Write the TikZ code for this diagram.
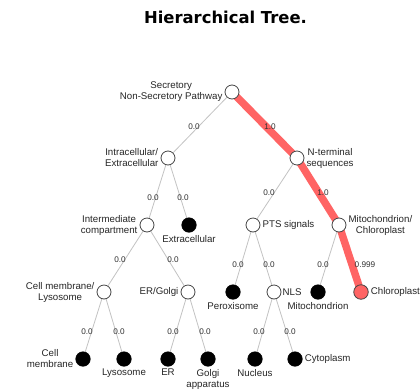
\documentclass[tikz,border=0pt]{standalone}
\usepackage{fontspec}
\setmainfont{Liberation Sans}
\newfontfamily\titlefont{DejaVu Sans}
\usetikzlibrary{backgrounds}
\definecolor{hot}{RGB}{255,100,100}
\definecolor{edgegray}{RGB}{195,195,195}
\definecolor{ringgray}{RGB}{70,70,70}
\tikzset{
  inner/.style={circle, draw=ringgray, fill=white, line width=0.8pt, minimum size=14pt, inner sep=0pt},
  leaf/.style={circle, draw=black, fill=black, line width=0.6pt, minimum size=14.5pt, inner sep=0pt},
  hotleaf/.style={circle, draw=ringgray, fill=hot, line width=0.8pt, minimum size=14.5pt, inner sep=0pt},
  lbl/.style={font=\fontsize{9.7}{11}\selectfont, align=center, inner sep=1pt, text=black!85},
  elbl/.style={font=\fontsize{8.2}{9}\selectfont, inner sep=0pt, text=black!80},
  edge/.style={draw=edgegray, line width=0.8pt},
  hotedge/.style={draw=hot, line width=7.5pt, line cap=round, line join=round},
}
\begin{document}
\begin{tikzpicture}[x=1pt,y=-1pt]
\useasboundingbox (0,0) rectangle (420,389);
\node[font=\titlefont\bfseries\fontsize{16.4}{18}\selectfont] (title) at (225.5,17.5) {Hierarchical Tree.};
% internal nodes
\node[inner, label={[lbl,label distance=1pt]left:{Secretory\\Non-Secretory Pathway}}] (root) at (232,92) {};
\node[inner, label={[lbl,label distance=1pt]left:{Intracellular/\\Extracellular}}] (intra) at (168,158) {};
\node[inner, label={[lbl,label distance=1pt]right:{N-terminal\\sequences}}] (nterm) at (297,158) {};
\node[inner, label={[lbl,label distance=1pt]left:{Intermediate\\compartment}}] (interm) at (147,225) {};
\node[leaf, label={[lbl,label distance=1.5pt]below:{Extracellular}}] (extra) at (189,225) {};
\node[inner, label={[lbl,label distance=1pt]right:{PTS signals}}] (pts) at (253,225) {};
\node[inner, label={[lbl,label distance=1pt]right:{Mitochondrion/\\Chloroplast}}] (mc) at (339,225) {};
\node[inner, label={[lbl,label distance=1pt]left:{Cell membrane/\\Lysosome}}] (cml) at (104,292) {};
\node[inner, label={[lbl,label distance=1pt]left:{ER/Golgi}}] (erg) at (188,292) {};
\node[leaf, label={[lbl,label distance=1.5pt]below:{Peroxisome}}] (perox) at (233,292) {};
\node[inner, label={[lbl,label distance=0pt]right:{NLS}}] (nls) at (274,292) {};
\node[leaf, label={[lbl,label distance=1.5pt]below:{Mitochondrion}}] (mito) at (318,292) {};
\node[hotleaf, label={[lbl,label distance=1pt]right:{Chloroplast}}] (chloro) at (361,292) {};
% bottom leaves
\node[leaf, label={[lbl,label distance=1pt]left:{Cell\\membrane}}] (cellm) at (83,359) {};
\node[leaf, label={[lbl,label distance=1.5pt]below:{Lysosome}}] (lyso) at (124,359) {};
\node[leaf, label={[lbl,label distance=1.5pt]below:{ER}}] (er) at (168,359) {};
\node[leaf, label={[lbl,label distance=1.5pt]below:{Golgi\\apparatus}}] (golgi) at (208,359) {};
\node[leaf, label={[lbl,label distance=1.5pt]below:{Nucleus}}] (nucleus) at (255,359) {};
\node[leaf, label={[lbl,label distance=1pt]right:{Cytoplasm}}] (cyto) at (295,359) {};
% edges
\begin{scope}[on background layer]
\fill[white] (0,0) rectangle (420,389);
\path[edge] (root) -- (intra);
\path[edge] (intra) -- (interm);
\path[edge] (intra) -- (extra);
\path[edge] (nterm) -- (pts);
\path[edge] (interm) -- (cml);
\path[edge] (interm) -- (erg);
\path[edge] (pts) -- (perox);
\path[edge] (pts) -- (nls);
\path[edge] (mc) -- (mito);
\path[edge] (cml) -- (cellm);
\path[edge] (cml) -- (lyso);
\path[edge] (erg) -- (er);
\path[edge] (erg) -- (golgi);
\path[edge] (nls) -- (nucleus);
\path[edge] (nls) -- (cyto);
\path[hotedge] (root.center) -- (nterm.center) -- (mc.center) -- (chloro.center);
\end{scope}
% edge labels
\node[elbl] (l1) at (194,127) {0.0};
\node[elbl] (l2) at (270,127) {1.0};
\node[elbl] (l3) at (153,198) {0.0};
\node[elbl] (l4) at (183,198) {0.0};
\node[elbl] (l5) at (269,193) {0.0};
\node[elbl] (l6) at (323,193) {1.0};
\node[elbl] (l7) at (120,260) {0.0};
\node[elbl] (l8) at (173,260) {0.0};
\node[elbl] (l9) at (238,265) {0.0};
\node[elbl] (l10) at (269,265) {0.0};
\node[elbl] (l11) at (323,265) {0.0};
\node[elbl] (l12) at (365,265) {0.999};
\node[elbl] (l13) at (87,332) {0.0};
\node[elbl] (l14) at (119,332) {0.0};
\node[elbl] (l15) at (173,332) {0.0};
\node[elbl] (l16) at (205,332) {0.0};
\node[elbl] (l17) at (259,332) {0.0};
\node[elbl] (l18) at (290,332) {0.0};
\end{tikzpicture}
\end{document}
